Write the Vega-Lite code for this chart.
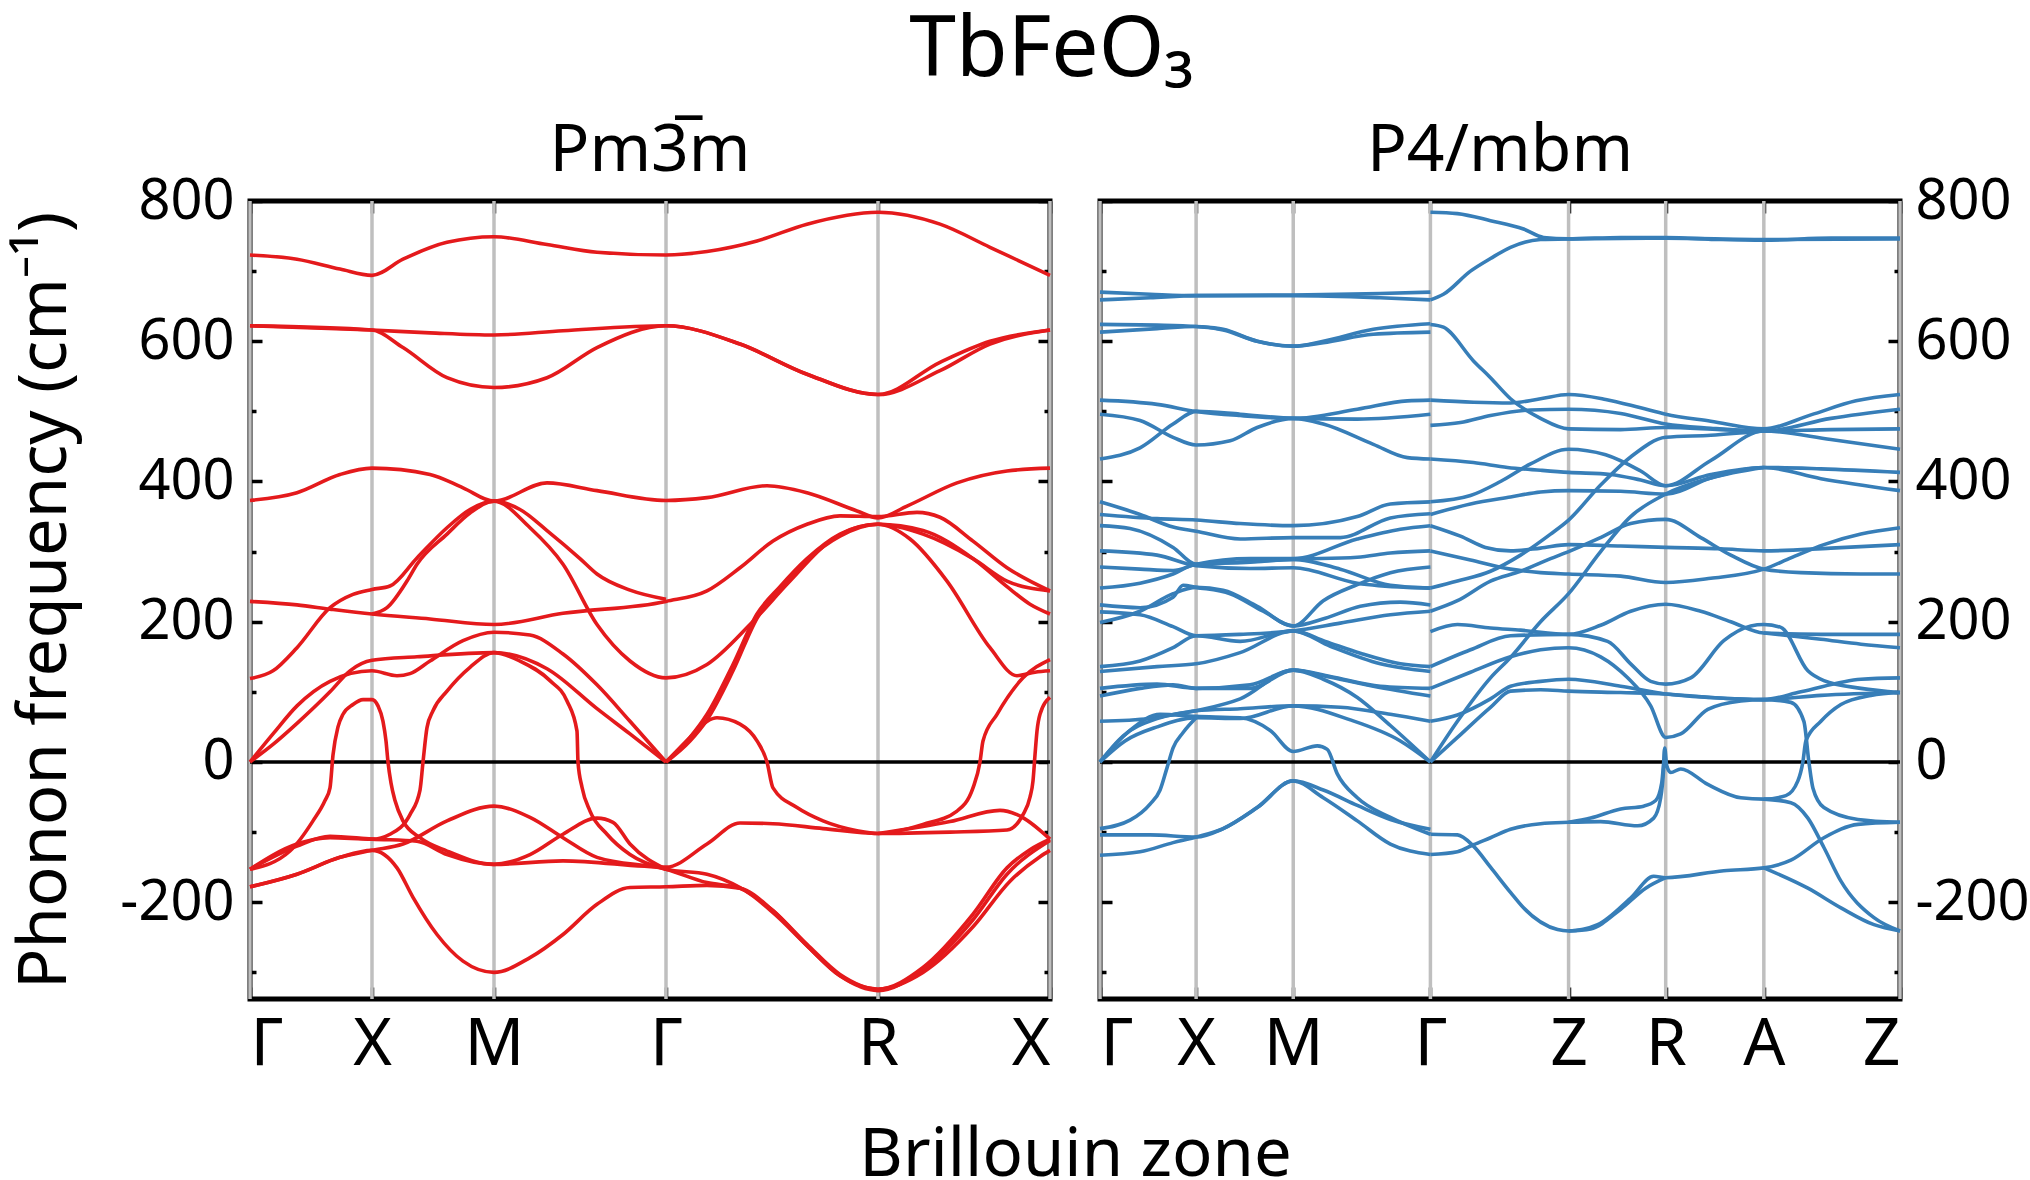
{
  "$schema": "https://vega.github.io/schema/vega-lite/v6.json",
  "background": "white",
  "padding": {"left": 9, "right": 0, "top": 8, "bottom": 0},
  "title": {"text": "TbFeO\u2083", "fontSize": 84, "anchor": "middle", "offset": 22, "dx": 31},
  "config": {
    "view": {"stroke": "black", "strokeWidth": 5},
    "font": "Noto Sans",
    "title": {"font": "Noto Sans", "fontWeight": "normal", "color": "black"},
    "axis": {
      "labelFont": "Noto Sans", "titleFont": "Noto Sans", "labelColor": "black", "titleColor": "black",
      "titleFontWeight": "normal", "domain": false, "grid": false, "tickColor": "black", "tickWidth": 3.5,
      "labelFlush": false, "labelOverlap": false, "labelBound": false, "minExtent": 0
    }
  },
  "datasets": {
    "cubic": [
      {"band":"L1","k":0,"freq":723},{"band":"L1","k":47,"freq":717},{"band":"L1","k":90,"freq":703},{"band":"L1","k":122,"freq":694},{"band":"L1","k":153,"freq":717},{"band":"L1","k":197,"freq":741},{"band":"L1","k":244,"freq":749},{"band":"L1","k":297,"freq":738},{"band":"L1","k":347,"freq":727},{"band":"L1","k":416,"freq":723},{"band":"L1","k":457,"freq":728},{"band":"L1","k":507,"freq":743},{"band":"L1","k":557,"freq":767},{"band":"L1","k":628,"freq":784},{"band":"L1","k":690,"freq":767},{"band":"L1","k":740,"freq":734},{"band":"L1","k":800,"freq":694},
      {"band":"L2","k":0,"freq":622},{"band":"L2","k":122,"freq":616},{"band":"L2","k":180,"freq":612},{"band":"L2","k":244,"freq":609},{"band":"L2","k":313,"freq":615},{"band":"L2","k":416,"freq":622},{"band":"L2","k":490,"freq":596},{"band":"L2","k":557,"freq":553},{"band":"L2","k":628,"freq":524},{"band":"L2","k":690,"freq":558},{"band":"L2","k":740,"freq":596},{"band":"L2","k":800,"freq":616},
      {"band":"L3","k":0,"freq":622},{"band":"L3","k":122,"freq":616},{"band":"L3","k":153,"freq":591},{"band":"L3","k":197,"freq":548},{"band":"L3","k":244,"freq":534},{"band":"L3","k":297,"freq":548},{"band":"L3","k":347,"freq":591},{"band":"L3","k":416,"freq":622},{"band":"L3","k":490,"freq":596},{"band":"L3","k":557,"freq":553},{"band":"L3","k":628,"freq":524},{"band":"L3","k":690,"freq":570},{"band":"L3","k":740,"freq":600},{"band":"L3","k":800,"freq":616},
      {"band":"L4","k":0,"freq":373},{"band":"L4","k":47,"freq":384},{"band":"L4","k":90,"freq":410},{"band":"L4","k":122,"freq":419},{"band":"L4","k":180,"freq":410},{"band":"L4","k":213,"freq":391},{"band":"L4","k":244,"freq":372},{"band":"L4","k":297,"freq":398},{"band":"L4","k":347,"freq":387},{"band":"L4","k":416,"freq":373},{"band":"L4","k":457,"freq":377},{"band":"L4","k":517,"freq":394},{"band":"L4","k":557,"freq":384},{"band":"L4","k":607,"freq":358},{"band":"L4","k":628,"freq":348},{"band":"L4","k":657,"freq":365},{"band":"L4","k":707,"freq":398},{"band":"L4","k":757,"freq":415},{"band":"L4","k":800,"freq":419},
      {"band":"L5","k":0,"freq":119},{"band":"L5","k":23,"freq":130},{"band":"L5","k":47,"freq":163},{"band":"L5","k":80,"freq":220},{"band":"L5","k":103,"freq":239},{"band":"L5","k":122,"freq":246},{"band":"L5","k":140,"freq":251},{"band":"L5","k":167,"freq":291},{"band":"L5","k":197,"freq":334},{"band":"L5","k":220,"freq":360},{"band":"L5","k":244,"freq":372},{"band":"L5","k":280,"freq":334},{"band":"L5","k":313,"freq":282},{"band":"L5","k":347,"freq":196},{"band":"L5","k":380,"freq":144},{"band":"L5","k":416,"freq":120},{"band":"L5","k":457,"freq":139},{"band":"L5","k":500,"freq":196},{"band":"L5","k":540,"freq":258},{"band":"L5","k":580,"freq":315},{"band":"L5","k":628,"freq":339},{"band":"L5","k":673,"freq":330},{"band":"L5","k":723,"freq":290},{"band":"L5","k":757,"freq":250},{"band":"L5","k":780,"freq":225},{"band":"L5","k":800,"freq":211},
      {"band":"L6","k":0,"freq":229},{"band":"L6","k":47,"freq":224},{"band":"L6","k":80,"freq":218},{"band":"L6","k":122,"freq":211},{"band":"L6","k":180,"freq":204},{"band":"L6","k":244,"freq":196},{"band":"L6","k":313,"freq":212},{"band":"L6","k":416,"freq":229},{"band":"L6","k":457,"freq":244},{"band":"L6","k":490,"freq":277},{"band":"L6","k":523,"freq":315},{"band":"L6","k":557,"freq":339},{"band":"L6","k":590,"freq":351},{"band":"L6","k":628,"freq":350},{"band":"L6","k":667,"freq":356},{"band":"L6","k":690,"freq":349},{"band":"L6","k":723,"freq":315},{"band":"L6","k":757,"freq":277},{"band":"L6","k":800,"freq":244},
      {"band":"L7","k":0,"freq":0},{"band":"L7","k":23,"freq":40},{"band":"L7","k":47,"freq":80},{"band":"L7","k":80,"freq":115},{"band":"L7","k":122,"freq":130},{"band":"L7","k":147,"freq":123},{"band":"L7","k":160,"freq":126},{"band":"L7","k":180,"freq":144},{"band":"L7","k":213,"freq":173},{"band":"L7","k":244,"freq":185},{"band":"L7","k":280,"freq":181},{"band":"L7","k":313,"freq":154},{"band":"L7","k":347,"freq":110},{"band":"L7","k":380,"freq":58},{"band":"L7","k":416,"freq":0},
      {"band":"L7b","k":416,"freq":0},{"band":"L7b","k":440,"freq":35},{"band":"L7b","k":457,"freq":68},{"band":"L7b","k":483,"freq":139},{"band":"L7b","k":507,"freq":211},{"band":"L7b","k":530,"freq":250},{"band":"L7b","k":557,"freq":290},{"band":"L7b","k":590,"freq":325},{"band":"L7b","k":628,"freq":339},{"band":"L7b","k":660,"freq":318},{"band":"L7b","k":697,"freq":258},{"band":"L7b","k":740,"freq":163},{"band":"L7b","k":767,"freq":123},{"band":"L7b","k":785,"freq":128},{"band":"L7b","k":800,"freq":130},
      {"band":"L8","k":0,"freq":0},{"band":"L8","k":23,"freq":25},{"band":"L8","k":47,"freq":55},{"band":"L8","k":80,"freq":100},{"band":"L8","k":100,"freq":130},{"band":"L8","k":122,"freq":145},{"band":"L8","k":167,"freq":150},{"band":"L8","k":244,"freq":156},{"band":"L8","k":297,"freq":133},{"band":"L8","k":347,"freq":76},{"band":"L8","k":380,"freq":40},{"band":"L8","k":416,"freq":0},
      {"band":"L8b","k":416,"freq":0},{"band":"L8b","k":440,"freq":30},{"band":"L8b","k":457,"freq":60},{"band":"L8b","k":483,"freq":130},{"band":"L8b","k":507,"freq":205},{"band":"L8b","k":530,"freq":248},{"band":"L8b","k":557,"freq":288},{"band":"L8b","k":590,"freq":322},{"band":"L8b","k":628,"freq":339},{"band":"L8b","k":673,"freq":325},{"band":"L8b","k":723,"freq":290},{"band":"L8b","k":757,"freq":258},{"band":"L8b","k":800,"freq":244},
      {"band":"L9","k":0,"freq":-153},{"band":"L9","k":40,"freq":-127},{"band":"L9","k":63,"freq":-84},{"band":"L9","k":75,"freq":-55},{"band":"L9","k":80,"freq":-37},{"band":"L9","k":83,"freq":10},{"band":"L9","k":88,"freq":50},{"band":"L9","k":93,"freq":68},{"band":"L9","k":103,"freq":82},{"band":"L9","k":113,"freq":89},{"band":"L9","k":122,"freq":89},{"band":"L9","k":128,"freq":80},{"band":"L9","k":133,"freq":58},{"band":"L9","k":136,"freq":30},{"band":"L9","k":138,"freq":0},{"band":"L9","k":141,"freq":-30},{"band":"L9","k":145,"freq":-55},{"band":"L9","k":153,"freq":-84},{"band":"L9","k":170,"freq":-108},{"band":"L9","k":197,"freq":-127},{"band":"L9","k":244,"freq":-146},{"band":"L9","k":313,"freq":-141},{"band":"L9","k":416,"freq":-150},{"band":"L9","k":457,"freq":-117},{"band":"L9","k":490,"freq":-87},{"band":"L9","k":523,"freq":-88},{"band":"L9","k":573,"freq":-95},{"band":"L9","k":628,"freq":-102},{"band":"L9","k":700,"freq":-100},{"band":"L9","k":757,"freq":-97},{"band":"L9","k":773,"freq":-75},{"band":"L9","k":780,"freq":-50},{"band":"L9","k":783,"freq":-27},{"band":"L9","k":785,"freq":10},{"band":"L9","k":787,"freq":44},{"band":"L9","k":790,"freq":68},{"band":"L9","k":800,"freq":92},
      {"band":"L10","k":0,"freq":-153},{"band":"L10","k":47,"freq":-117},{"band":"L10","k":80,"freq":-108},{"band":"L10","k":122,"freq":-110},{"band":"L10","k":140,"freq":-103},{"band":"L10","k":160,"freq":-75},{"band":"L10","k":170,"freq":-40},{"band":"L10","k":173,"freq":0},{"band":"L10","k":177,"freq":49},{"band":"L10","k":183,"freq":73},{"band":"L10","k":197,"freq":101},{"band":"L10","k":220,"freq":135},{"band":"L10","k":244,"freq":156},{"band":"L10","k":270,"freq":144},{"band":"L10","k":300,"freq":116},{"band":"L10","k":317,"freq":87},{"band":"L10","k":327,"freq":44},{"band":"L10","k":328,"freq":0},{"band":"L10","k":332,"freq":-36},{"band":"L10","k":340,"freq":-70},{"band":"L10","k":357,"freq":-103},{"band":"L10","k":380,"freq":-132},{"band":"L10","k":416,"freq":-153},{"band":"L10","k":457,"freq":-160},{"band":"L10","k":490,"freq":-179},{"band":"L10","k":523,"freq":-212},{"band":"L10","k":557,"freq":-260},{"band":"L10","k":590,"freq":-303},{"band":"L10","k":628,"freq":-324},{"band":"L10","k":673,"freq":-293},{"band":"L10","k":723,"freq":-217},{"band":"L10","k":757,"freq":-151},{"band":"L10","k":780,"freq":-125},{"band":"L10","k":800,"freq":-110},
      {"band":"L11","k":0,"freq":-178},{"band":"L11","k":47,"freq":-160},{"band":"L11","k":90,"freq":-136},{"band":"L11","k":122,"freq":-126},{"band":"L11","k":153,"freq":-117},{"band":"L11","k":197,"freq":-84},{"band":"L11","k":244,"freq":-63},{"band":"L11","k":280,"freq":-79},{"band":"L11","k":313,"freq":-108},{"band":"L11","k":347,"freq":-136},{"band":"L11","k":416,"freq":-153},{"band":"L11","k":457,"freq":-172},{"band":"L11","k":490,"freq":-180},{"band":"L11","k":523,"freq":-215},{"band":"L11","k":557,"freq":-262},{"band":"L11","k":590,"freq":-305},{"band":"L11","k":628,"freq":-324},{"band":"L11","k":673,"freq":-300},{"band":"L11","k":723,"freq":-235},{"band":"L11","k":760,"freq":-170},{"band":"L11","k":790,"freq":-135},{"band":"L11","k":800,"freq":-126},
      {"band":"L12","k":0,"freq":-178},{"band":"L12","k":47,"freq":-160},{"band":"L12","k":90,"freq":-136},{"band":"L12","k":122,"freq":-126},{"band":"L12","k":147,"freq":-151},{"band":"L12","k":163,"freq":-193},{"band":"L12","k":187,"freq":-246},{"band":"L12","k":213,"freq":-284},{"band":"L12","k":244,"freq":-300},{"band":"L12","k":280,"freq":-279},{"band":"L12","k":313,"freq":-246},{"band":"L12","k":347,"freq":-203},{"band":"L12","k":380,"freq":-179},{"band":"L12","k":416,"freq":-178},{"band":"L12","k":457,"freq":-176},{"band":"L12","k":490,"freq":-180},{"band":"L12","k":523,"freq":-212},{"band":"L12","k":557,"freq":-262},{"band":"L12","k":590,"freq":-305},{"band":"L12","k":628,"freq":-326},{"band":"L12","k":673,"freq":-296},{"band":"L12","k":723,"freq":-225},{"band":"L12","k":757,"freq":-160},{"band":"L12","k":800,"freq":-112},
      {"band":"L13","k":0,"freq":-153},{"band":"L13","k":47,"freq":-120},{"band":"L13","k":80,"freq":-106},{"band":"L13","k":122,"freq":-110},{"band":"L13","k":167,"freq":-113},{"band":"L13","k":197,"freq":-132},{"band":"L13","k":244,"freq":-146},{"band":"L13","k":280,"freq":-132},{"band":"L13","k":313,"freq":-103},{"band":"L13","k":347,"freq":-80},{"band":"L13","k":363,"freq":-86},{"band":"L13","k":380,"freq":-117},{"band":"L13","k":416,"freq":-153},
      {"band":"L14","k":416,"freq":0},{"band":"L14","k":440,"freq":35},{"band":"L14","k":457,"freq":58},{"band":"L14","k":467,"freq":63},{"band":"L14","k":490,"freq":54},{"band":"L14","k":507,"freq":30},{"band":"L14","k":517,"freq":0},{"band":"L14","k":523,"freq":-37},{"band":"L14","k":547,"freq":-65},{"band":"L14","k":573,"freq":-84},{"band":"L14","k":607,"freq":-98},{"band":"L14","k":628,"freq":-102},{"band":"L14","k":673,"freq":-89},{"band":"L14","k":707,"freq":-70},{"band":"L14","k":723,"freq":-37},{"band":"L14","k":730,"freq":0},{"band":"L14","k":733,"freq":30},{"band":"L14","k":747,"freq":68},{"band":"L14","k":773,"freq":120},{"band":"L14","k":800,"freq":146},
      {"band":"L15","k":122,"freq":211},{"band":"L15","k":137,"freq":220},{"band":"L15","k":157,"freq":258},{"band":"L15","k":167,"freq":282},{"band":"L15","k":197,"freq":325},{"band":"L15","k":220,"freq":355},{"band":"L15","k":244,"freq":372},{"band":"L15","k":270,"freq":360},{"band":"L15","k":297,"freq":330},{"band":"L15","k":330,"freq":290},{"band":"L15","k":347,"freq":268},{"band":"L15","k":380,"freq":245},{"band":"L15","k":416,"freq":232},
      {"band":"L16","k":628,"freq":-102},{"band":"L16","k":700,"freq":-85},{"band":"L16","k":750,"freq":-69},{"band":"L16","k":767,"freq":-75},{"band":"L16","k":800,"freq":-110}
    ],
    "tetra": [
      {"band":"RL1","k":0,"freq":670},{"band":"RL1","k":50,"freq":667},{"band":"RL1","k":96,"freq":665},{"band":"RL1","k":193,"freq":666},{"band":"RL1","k":280,"freq":668},{"band":"RL1","k":330,"freq":670},
      {"band":"RL2","k":0,"freq":659},{"band":"RL2","k":50,"freq":662},{"band":"RL2","k":96,"freq":665},{"band":"RL2","k":193,"freq":665},{"band":"RL2","k":280,"freq":662},{"band":"RL2","k":330,"freq":659},
      {"band":"RL3","k":0,"freq":624},{"band":"RL3","k":57,"freq":623},{"band":"RL3","k":96,"freq":621},{"band":"RL3","k":123,"freq":617},{"band":"RL3","k":157,"freq":600},{"band":"RL3","k":193,"freq":593},{"band":"RL3","k":223,"freq":600},{"band":"RL3","k":273,"freq":617},{"band":"RL3","k":330,"freq":625},
      {"band":"RL4","k":0,"freq":613},{"band":"RL4","k":57,"freq":618},{"band":"RL4","k":96,"freq":621},{"band":"RL4","k":123,"freq":616},{"band":"RL4","k":157,"freq":600},{"band":"RL4","k":193,"freq":593},{"band":"RL4","k":223,"freq":598},{"band":"RL4","k":273,"freq":610},{"band":"RL4","k":330,"freq":613},
      {"band":"RL5","k":0,"freq":516},{"band":"RL5","k":57,"freq":510},{"band":"RL5","k":96,"freq":500},{"band":"RL5","k":140,"freq":494},{"band":"RL5","k":193,"freq":490},{"band":"RL5","k":257,"freq":503},{"band":"RL5","k":307,"freq":515},{"band":"RL5","k":330,"freq":516},
      {"band":"RL6","k":0,"freq":496},{"band":"RL6","k":40,"freq":487},{"band":"RL6","k":73,"freq":463},{"band":"RL6","k":96,"freq":452},{"band":"RL6","k":130,"freq":458},{"band":"RL6","k":157,"freq":477},{"band":"RL6","k":193,"freq":490},{"band":"RL6","k":223,"freq":482},{"band":"RL6","k":273,"freq":453},{"band":"RL6","k":307,"freq":434},{"band":"RL6","k":330,"freq":432},
      {"band":"RL7","k":0,"freq":432},{"band":"RL7","k":40,"freq":448},{"band":"RL7","k":73,"freq":482},{"band":"RL7","k":96,"freq":500},{"band":"RL7","k":140,"freq":496},{"band":"RL7","k":193,"freq":490},{"band":"RL7","k":257,"freq":489},{"band":"RL7","k":330,"freq":496},
      {"band":"RL8","k":0,"freq":371},{"band":"RL8","k":40,"freq":353},{"band":"RL8","k":73,"freq":335},{"band":"RL8","k":96,"freq":329},{"band":"RL8","k":140,"freq":318},{"band":"RL8","k":193,"freq":320},{"band":"RL8","k":240,"freq":320},{"band":"RL8","k":290,"freq":348},{"band":"RL8","k":330,"freq":354},
      {"band":"RL9","k":0,"freq":353},{"band":"RL9","k":57,"freq":347},{"band":"RL9","k":96,"freq":345},{"band":"RL9","k":140,"freq":340},{"band":"RL9","k":193,"freq":337},{"band":"RL9","k":257,"freq":350},{"band":"RL9","k":290,"freq":368},{"band":"RL9","k":330,"freq":371},
      {"band":"RL10","k":0,"freq":337},{"band":"RL10","k":30,"freq":333},{"band":"RL10","k":73,"freq":306},{"band":"RL10","k":96,"freq":282},{"band":"RL10","k":140,"freq":285},{"band":"RL10","k":193,"freq":289},{"band":"RL10","k":257,"freq":292},{"band":"RL10","k":290,"freq":298},{"band":"RL10","k":330,"freq":301},
      {"band":"RL11","k":0,"freq":301},{"band":"RL11","k":57,"freq":295},{"band":"RL11","k":96,"freq":280},{"band":"RL11","k":150,"freq":276},{"band":"RL11","k":193,"freq":277},{"band":"RL11","k":257,"freq":255},{"band":"RL11","k":307,"freq":249},{"band":"RL11","k":330,"freq":248},
      {"band":"RL12","k":0,"freq":278},{"band":"RL12","k":40,"freq":275},{"band":"RL12","k":73,"freq":273},{"band":"RL12","k":96,"freq":282},{"band":"RL12","k":150,"freq":290},{"band":"RL12","k":193,"freq":290},{"band":"RL12","k":257,"freq":318},{"band":"RL12","k":300,"freq":332},{"band":"RL12","k":330,"freq":337},
      {"band":"RL13","k":0,"freq":248},{"band":"RL13","k":40,"freq":255},{"band":"RL13","k":73,"freq":268},{"band":"RL13","k":96,"freq":282},{"band":"RL13","k":150,"freq":285},{"band":"RL13","k":193,"freq":289},{"band":"RL13","k":240,"freq":275},{"band":"RL13","k":290,"freq":252},{"band":"RL13","k":330,"freq":248},
      {"band":"RL14","k":0,"freq":224},{"band":"RL14","k":40,"freq":220},{"band":"RL14","k":73,"freq":235},{"band":"RL14","k":83,"freq":252},{"band":"RL14","k":96,"freq":249},{"band":"RL14","k":130,"freq":240},{"band":"RL14","k":163,"freq":215},{"band":"RL14","k":193,"freq":194},{"band":"RL14","k":223,"freq":230},{"band":"RL14","k":257,"freq":253},{"band":"RL14","k":290,"freq":270},{"band":"RL14","k":330,"freq":278},
      {"band":"RL15","k":0,"freq":214},{"band":"RL15","k":40,"freq":210},{"band":"RL15","k":73,"freq":193},{"band":"RL15","k":96,"freq":180},{"band":"RL15","k":140,"freq":182},{"band":"RL15","k":193,"freq":187},{"band":"RL15","k":240,"freq":198},{"band":"RL15","k":290,"freq":210},{"band":"RL15","k":330,"freq":215},
      {"band":"RL16","k":0,"freq":199},{"band":"RL16","k":40,"freq":215},{"band":"RL16","k":73,"freq":240},{"band":"RL16","k":96,"freq":249},{"band":"RL16","k":123,"freq":245},{"band":"RL16","k":157,"freq":222},{"band":"RL16","k":193,"freq":194},{"band":"RL16","k":225,"freq":205},{"band":"RL16","k":260,"freq":222},{"band":"RL16","k":300,"freq":228},{"band":"RL16","k":330,"freq":224},
      {"band":"RL17","k":0,"freq":136},{"band":"RL17","k":40,"freq":144},{"band":"RL17","k":73,"freq":163},{"band":"RL17","k":96,"freq":180},{"band":"RL17","k":140,"freq":172},{"band":"RL17","k":193,"freq":187},{"band":"RL17","k":225,"freq":172},{"band":"RL17","k":260,"freq":155},{"band":"RL17","k":300,"freq":140},{"band":"RL17","k":330,"freq":136},
      {"band":"RL18","k":0,"freq":129},{"band":"RL18","k":57,"freq":136},{"band":"RL18","k":96,"freq":140},{"band":"RL18","k":140,"freq":156},{"band":"RL18","k":193,"freq":187},{"band":"RL18","k":230,"freq":165},{"band":"RL18","k":280,"freq":140},{"band":"RL18","k":330,"freq":129},
      {"band":"RL19","k":0,"freq":105},{"band":"RL19","k":57,"freq":111},{"band":"RL19","k":96,"freq":105},{"band":"RL19","k":150,"freq":105},{"band":"RL19","k":193,"freq":131},{"band":"RL19","k":230,"freq":122},{"band":"RL19","k":280,"freq":108},{"band":"RL19","k":330,"freq":105},
      {"band":"RL20","k":0,"freq":94},{"band":"RL20","k":40,"freq":105},{"band":"RL20","k":73,"freq":110},{"band":"RL20","k":96,"freq":105},{"band":"RL20","k":150,"freq":110},{"band":"RL20","k":193,"freq":131},{"band":"RL20","k":223,"freq":123},{"band":"RL20","k":273,"freq":108},{"band":"RL20","k":330,"freq":94},
      {"band":"RL21","k":0,"freq":58},{"band":"RL21","k":50,"freq":62},{"band":"RL21","k":96,"freq":73},{"band":"RL21","k":140,"freq":76},{"band":"RL21","k":193,"freq":80},{"band":"RL21","k":240,"freq":78},{"band":"RL21","k":290,"freq":68},{"band":"RL21","k":330,"freq":58},
      {"band":"RL22","k":0,"freq":0},{"band":"RL22","k":23,"freq":37},{"band":"RL22","k":57,"freq":62},{"band":"RL22","k":96,"freq":73},{"band":"RL22","k":140,"freq":90},{"band":"RL22","k":193,"freq":131},{"band":"RL22","k":223,"freq":118},{"band":"RL22","k":257,"freq":92},{"band":"RL22","k":290,"freq":52},{"band":"RL22","k":330,"freq":0},
      {"band":"RL23","k":0,"freq":0},{"band":"RL23","k":30,"freq":45},{"band":"RL23","k":60,"freq":68},{"band":"RL23","k":96,"freq":65},{"band":"RL23","k":140,"freq":63},{"band":"RL23","k":170,"freq":45},{"band":"RL23","k":193,"freq":15},{"band":"RL23","k":217,"freq":23},{"band":"RL23","k":227,"freq":18},{"band":"RL23","k":237,"freq":-17},{"band":"RL23","k":257,"freq":-51},{"band":"RL23","k":290,"freq":-79},{"band":"RL23","k":330,"freq":-103},
      {"band":"RL24","k":0,"freq":0},{"band":"RL24","k":25,"freq":30},{"band":"RL24","k":57,"freq":50},{"band":"RL24","k":96,"freq":63},{"band":"RL24","k":140,"freq":62},{"band":"RL24","k":193,"freq":80},{"band":"RL24","k":250,"freq":60},{"band":"RL24","k":300,"freq":30},{"band":"RL24","k":330,"freq":0},
      {"band":"RL25","k":0,"freq":-95},{"band":"RL25","k":30,"freq":-83},{"band":"RL25","k":50,"freq":-60},{"band":"RL25","k":60,"freq":-40},{"band":"RL25","k":67,"freq":-8},{"band":"RL25","k":73,"freq":20},{"band":"RL25","k":83,"freq":42},{"band":"RL25","k":96,"freq":63},
      {"band":"RL26","k":0,"freq":-104},{"band":"RL26","k":50,"freq":-104},{"band":"RL26","k":96,"freq":-107},{"band":"RL26","k":123,"freq":-95},{"band":"RL26","k":157,"freq":-65},{"band":"RL26","k":193,"freq":-27},{"band":"RL26","k":223,"freq":-51},{"band":"RL26","k":257,"freq":-84},{"band":"RL26","k":290,"freq":-117},{"band":"RL26","k":330,"freq":-132},
      {"band":"RL27","k":0,"freq":-133},{"band":"RL27","k":40,"freq":-128},{"band":"RL27","k":73,"freq":-115},{"band":"RL27","k":96,"freq":-107},{"band":"RL27","k":123,"freq":-95},{"band":"RL27","k":157,"freq":-65},{"band":"RL27","k":193,"freq":-27},{"band":"RL27","k":223,"freq":-40},{"band":"RL27","k":257,"freq":-62},{"band":"RL27","k":290,"freq":-82},{"band":"RL27","k":330,"freq":-96},
      {"band":"RR1","k":330,"freq":784},{"band":"RR1","k":357,"freq":782},{"band":"RR1","k":390,"freq":772},{"band":"RR1","k":423,"freq":760},{"band":"RR1","k":443,"freq":748},{"band":"RR1","k":468,"freq":746},{"band":"RR1","k":520,"freq":748},{"band":"RR1","k":565,"freq":748},{"band":"RR1","k":620,"freq":745},{"band":"RR1","k":663,"freq":744},{"band":"RR1","k":730,"freq":747},{"band":"RR1","k":799,"freq":747},
      {"band":"RR2","k":330,"freq":659},{"band":"RR2","k":343,"freq":667},{"band":"RR2","k":370,"freq":700},{"band":"RR2","k":390,"freq":718},{"band":"RR2","k":410,"freq":734},{"band":"RR2","k":440,"freq":745},{"band":"RR2","k":468,"freq":746},{"band":"RR2","k":565,"freq":747},{"band":"RR2","k":663,"freq":745},{"band":"RR2","k":799,"freq":746},
      {"band":"RR3","k":330,"freq":624},{"band":"RR3","k":343,"freq":620},{"band":"RR3","k":373,"freq":572},{"band":"RR3","k":390,"freq":548},{"band":"RR3","k":410,"freq":518},{"band":"RR3","k":440,"freq":490},{"band":"RR3","k":468,"freq":475},{"band":"RR3","k":520,"freq":474},{"band":"RR3","k":565,"freq":477},{"band":"RR3","k":620,"freq":474},{"band":"RR3","k":663,"freq":472},{"band":"RR3","k":730,"freq":474},{"band":"RR3","k":799,"freq":475},
      {"band":"RR4","k":330,"freq":516},{"band":"RR4","k":373,"freq":513},{"band":"RR4","k":410,"freq":512},{"band":"RR4","k":440,"freq":518},{"band":"RR4","k":468,"freq":524},{"band":"RR4","k":505,"freq":517},{"band":"RR4","k":540,"freq":505},{"band":"RR4","k":565,"freq":496},{"band":"RR4","k":610,"freq":486},{"band":"RR4","k":663,"freq":475},{"band":"RR4","k":710,"freq":495},{"band":"RR4","k":755,"freq":515},{"band":"RR4","k":799,"freq":524},
      {"band":"RR5","k":330,"freq":480},{"band":"RR5","k":360,"freq":484},{"band":"RR5","k":390,"freq":494},{"band":"RR5","k":430,"freq":502},{"band":"RR5","k":468,"freq":503},{"band":"RR5","k":520,"freq":497},{"band":"RR5","k":565,"freq":482},{"band":"RR5","k":610,"freq":476},{"band":"RR5","k":663,"freq":472},{"band":"RR5","k":730,"freq":490},{"band":"RR5","k":799,"freq":503},
      {"band":"RR6","k":330,"freq":432},{"band":"RR6","k":373,"freq":427},{"band":"RR6","k":407,"freq":420},{"band":"RR6","k":440,"freq":416},{"band":"RR6","k":468,"freq":413},{"band":"RR6","k":510,"freq":410},{"band":"RR6","k":540,"freq":402},{"band":"RR6","k":565,"freq":394},{"band":"RR6","k":610,"freq":410},{"band":"RR6","k":663,"freq":420},{"band":"RR6","k":720,"freq":418},{"band":"RR6","k":799,"freq":413},
      {"band":"RR7","k":330,"freq":371},{"band":"RR7","k":370,"freq":380},{"band":"RR7","k":400,"freq":400},{"band":"RR7","k":430,"freq":425},{"band":"RR7","k":468,"freq":446},{"band":"RR7","k":505,"freq":438},{"band":"RR7","k":540,"freq":415},{"band":"RR7","k":565,"freq":394},{"band":"RR7","k":610,"freq":430},{"band":"RR7","k":663,"freq":472},{"band":"RR7","k":730,"freq":460},{"band":"RR7","k":799,"freq":446},
      {"band":"RR8","k":330,"freq":353},{"band":"RR8","k":370,"freq":368},{"band":"RR8","k":410,"freq":378},{"band":"RR8","k":440,"freq":385},{"band":"RR8","k":468,"freq":387},{"band":"RR8","k":520,"freq":386},{"band":"RR8","k":565,"freq":382},{"band":"RR8","k":610,"freq":405},{"band":"RR8","k":663,"freq":420},{"band":"RR8","k":720,"freq":404},{"band":"RR8","k":799,"freq":387},
      {"band":"RR9","k":330,"freq":337},{"band":"RR9","k":360,"freq":322},{"band":"RR9","k":385,"freq":306},{"band":"RR9","k":410,"freq":301},{"band":"RR9","k":440,"freq":305},{"band":"RR9","k":468,"freq":310},{"band":"RR9","k":520,"freq":308},{"band":"RR9","k":565,"freq":306},{"band":"RR9","k":620,"freq":304},{"band":"RR9","k":663,"freq":301},{"band":"RR9","k":730,"freq":305},{"band":"RR9","k":799,"freq":310},
      {"band":"RR10","k":330,"freq":301},{"band":"RR10","k":370,"freq":288},{"band":"RR10","k":410,"freq":275},{"band":"RR10","k":440,"freq":270},{"band":"RR10","k":468,"freq":268},{"band":"RR10","k":520,"freq":265},{"band":"RR10","k":565,"freq":256},{"band":"RR10","k":610,"freq":262},{"band":"RR10","k":663,"freq":275},{"band":"RR10","k":690,"freq":291},{"band":"RR10","k":723,"freq":310},{"band":"RR10","k":760,"freq":325},{"band":"RR10","k":799,"freq":334},
      {"band":"RR11","k":330,"freq":248},{"band":"RR11","k":357,"freq":258},{"band":"RR11","k":390,"freq":272},{"band":"RR11","k":420,"freq":295},{"band":"RR11","k":450,"freq":325},{"band":"RR11","k":468,"freq":345},{"band":"RR11","k":500,"freq":395},{"band":"RR11","k":530,"freq":435},{"band":"RR11","k":565,"freq":463},{"band":"RR11","k":610,"freq":466},{"band":"RR11","k":663,"freq":472},
      {"band":"RR12","k":330,"freq":215},{"band":"RR12","k":357,"freq":230},{"band":"RR12","k":390,"freq":258},{"band":"RR12","k":420,"freq":272},{"band":"RR12","k":450,"freq":290},{"band":"RR12","k":468,"freq":300},{"band":"RR12","k":500,"freq":320},{"band":"RR12","k":530,"freq":340},{"band":"RR12","k":565,"freq":346},{"band":"RR12","k":600,"freq":320},{"band":"RR12","k":630,"freq":295},{"band":"RR12","k":663,"freq":275},{"band":"RR12","k":700,"freq":270},{"band":"RR12","k":760,"freq":268},{"band":"RR12","k":799,"freq":268},
      {"band":"RR13","k":330,"freq":0},{"band":"RR13","k":357,"freq":58},{"band":"RR13","k":390,"freq":120},{"band":"RR13","k":410,"freq":149},{"band":"RR13","k":440,"freq":200},{"band":"RR13","k":468,"freq":240},{"band":"RR13","k":500,"freq":300},{"band":"RR13","k":530,"freq":350},{"band":"RR13","k":565,"freq":382},{"band":"RR13","k":610,"freq":405},{"band":"RR13","k":663,"freq":420},
      {"band":"RR14","k":330,"freq":186},{"band":"RR14","k":357,"freq":196},{"band":"RR14","k":390,"freq":191},{"band":"RR14","k":420,"freq":188},{"band":"RR14","k":468,"freq":182},{"band":"RR14","k":500,"freq":195},{"band":"RR14","k":530,"freq":215},{"band":"RR14","k":565,"freq":225},{"band":"RR14","k":600,"freq":215},{"band":"RR14","k":630,"freq":200},{"band":"RR14","k":663,"freq":184},{"band":"RR14","k":720,"freq":182},{"band":"RR14","k":799,"freq":182},
      {"band":"RR15","k":330,"freq":58},{"band":"RR15","k":357,"freq":67},{"band":"RR15","k":390,"freq":90},{"band":"RR15","k":410,"freq":108},{"band":"RR15","k":440,"freq":115},{"band":"RR15","k":468,"freq":118},{"band":"RR15","k":520,"freq":108},{"band":"RR15","k":565,"freq":97},{"band":"RR15","k":610,"freq":92},{"band":"RR15","k":663,"freq":89},{"band":"RR15","k":700,"freq":100},{"band":"RR15","k":760,"freq":118},{"band":"RR15","k":799,"freq":120},
      {"band":"RR16","k":330,"freq":0},{"band":"RR16","k":357,"freq":35},{"band":"RR16","k":390,"freq":78},{"band":"RR16","k":410,"freq":101},{"band":"RR16","k":440,"freq":103},{"band":"RR16","k":468,"freq":101},{"band":"RR16","k":520,"freq":99},{"band":"RR16","k":565,"freq":97},{"band":"RR16","k":610,"freq":92},{"band":"RR16","k":663,"freq":89},{"band":"RR16","k":720,"freq":95},{"band":"RR16","k":799,"freq":99},
      {"band":"RR17","k":330,"freq":136},{"band":"RR17","k":370,"freq":160},{"band":"RR17","k":410,"freq":180},{"band":"RR17","k":468,"freq":182},{"band":"RR17","k":507,"freq":172},{"band":"RR17","k":530,"freq":140},{"band":"RR17","k":550,"freq":115},{"band":"RR17","k":565,"freq":111},{"band":"RR17","k":590,"freq":120},{"band":"RR17","k":623,"freq":173},{"band":"RR17","k":650,"freq":194},{"band":"RR17","k":663,"freq":196},{"band":"RR17","k":680,"freq":192},{"band":"RR17","k":707,"freq":130},{"band":"RR17","k":723,"freq":116},{"band":"RR17","k":760,"freq":105},{"band":"RR17","k":799,"freq":99},
      {"band":"RR18","k":330,"freq":105},{"band":"RR18","k":370,"freq":128},{"band":"RR18","k":410,"freq":150},{"band":"RR18","k":440,"freq":160},{"band":"RR18","k":468,"freq":163},{"band":"RR18","k":500,"freq":150},{"band":"RR18","k":527,"freq":120},{"band":"RR18","k":550,"freq":80},{"band":"RR18","k":565,"freq":35},{"band":"RR18","k":580,"freq":40},{"band":"RR18","k":607,"freq":75},{"band":"RR18","k":640,"freq":87},{"band":"RR18","k":663,"freq":89},{"band":"RR18","k":690,"freq":85},{"band":"RR18","k":703,"freq":58},{"band":"RR18","k":708,"freq":0},{"band":"RR18","k":712,"freq":-37},{"band":"RR18","k":723,"freq":-65},{"band":"RR18","k":757,"freq":-82},{"band":"RR18","k":799,"freq":-86},
      {"band":"RR19","k":330,"freq":-103},{"band":"RR19","k":357,"freq":-104},{"band":"RR19","k":373,"freq":-120},{"band":"RR19","k":390,"freq":-150},{"band":"RR19","k":410,"freq":-186},{"band":"RR19","k":423,"freq":-208},{"band":"RR19","k":457,"freq":-239},{"band":"RR19","k":468,"freq":-241},{"band":"RR19","k":497,"freq":-232},{"band":"RR19","k":530,"freq":-194},{"band":"RR19","k":553,"freq":-163},{"band":"RR19","k":565,"freq":-165},{"band":"RR19","k":623,"freq":-155},{"band":"RR19","k":663,"freq":-151},{"band":"RR19","k":690,"freq":-140},{"band":"RR19","k":723,"freq":-108},{"band":"RR19","k":757,"freq":-89},{"band":"RR19","k":799,"freq":-86},
      {"band":"RR20","k":330,"freq":-132},{"band":"RR20","k":357,"freq":-128},{"band":"RR20","k":373,"freq":-118},{"band":"RR20","k":390,"freq":-108},{"band":"RR20","k":410,"freq":-96},{"band":"RR20","k":440,"freq":-88},{"band":"RR20","k":468,"freq":-86},{"band":"RR20","k":500,"freq":-85},{"band":"RR20","k":537,"freq":-91},{"band":"RR20","k":553,"freq":-80},{"band":"RR20","k":560,"freq":-51},{"band":"RR20","k":563,"freq":-8},{"band":"RR20","k":564,"freq":20},{"band":"RR20","k":566,"freq":-5},{"band":"RR20","k":570,"freq":-15},{"band":"RR20","k":580,"freq":-10},{"band":"RR20","k":607,"freq":-32},{"band":"RR20","k":640,"freq":-51},{"band":"RR20","k":663,"freq":-53},{"band":"RR20","k":685,"freq":-48},{"band":"RR20","k":697,"freq":-27},{"band":"RR20","k":702,"freq":0},{"band":"RR20","k":705,"freq":30},{"band":"RR20","k":720,"freq":58},{"band":"RR20","k":740,"freq":82},{"band":"RR20","k":770,"freq":95},{"band":"RR20","k":799,"freq":99},
      {"band":"RR21","k":468,"freq":-86},{"band":"RR21","k":490,"freq":-80},{"band":"RR21","k":520,"freq":-67},{"band":"RR21","k":543,"freq":-63},{"band":"RR21","k":555,"freq":-55},{"band":"RR21","k":561,"freq":-30},{"band":"RR21","k":563,"freq":0},{"band":"RR21","k":564,"freq":18},
      {"band":"RR22","k":663,"freq":-53},{"band":"RR22","k":690,"freq":-58},{"band":"RR22","k":707,"freq":-80},{"band":"RR22","k":723,"freq":-122},{"band":"RR22","k":740,"freq":-170},{"band":"RR22","k":773,"freq":-222},{"band":"RR22","k":799,"freq":-241},
      {"band":"RR23","k":663,"freq":-151},{"band":"RR23","k":707,"freq":-180},{"band":"RR23","k":740,"freq":-208},{"band":"RR23","k":773,"freq":-232},{"band":"RR23","k":799,"freq":-241},
      {"band":"RR24","k":468,"freq":-241},{"band":"RR24","k":490,"freq":-238},{"band":"RR24","k":520,"freq":-210},{"band":"RR24","k":545,"freq":-180},{"band":"RR24","k":565,"freq":-165},
      {"band":"RR25","k":663,"freq":184},{"band":"RR25","k":720,"freq":175},{"band":"RR25","k":760,"freq":168},{"band":"RR25","k":799,"freq":163}
    ]
  },
  "spacing": 50,
  "bounds": "flush",
  "hconcat": [
    {
      "width": 800,
      "height": 798,
      "title": {"text": "Pm3\u0305m", "fontSize": 66, "offset": -12},
      "layer": [
        {
          "data": {"values": [{"k": 0}, {"k": 122}, {"k": 244}, {"k": 416}, {"k": 628}, {"k": 800}]},
          "mark": {"type": "rule", "color": "#bfbfbf", "strokeWidth": 3.5},
          "encoding": {
            "x": {
              "field": "k", "type": "quantitative",
              "scale": {"domain": [0, 800], "nice": false, "zero": false},
              "axis": {
                "orient": "bottom", "values": [0, 122, 244, 416, 628, 800],
                "labelExpr": "datum.value == 0 || datum.value == 416 ? '\u0393' : datum.value == 122 || datum.value == 800 ? 'X' : datum.value == 244 ? 'M' : 'R'",
                "labelFontSize": 66, "tickSize": -12, "labelPadding": 25, "labelFlush": true,
                "title": "Brillouin zone", "titleFontSize": 67, "titleX": 825, "titleAlign": "center", "titlePadding": 45
              }
            }
          }
        },
        {
          "data": {"values": [{"k": 0}, {"k": 122}, {"k": 244}, {"k": 416}, {"k": 628}, {"k": 800}]},
          "mark": {"type": "rule", "opacity": 0},
          "encoding": {
            "x": {
              "field": "k", "type": "quantitative",
              "axis": {"orient": "top", "values": [0, 122, 244, 416, 628, 800], "labels": false, "title": null, "tickSize": -12}
            }
          }
        },
        {
          "data": {"values": [{}]},
          "mark": {"type": "rule", "color": "black", "strokeWidth": 3.5},
          "encoding": {
            "y": {
              "datum": 0, "type": "quantitative",
              "scale": {"domain": [-338, 800], "nice": false, "zero": false},
              "axis": {
                "orient": "left", "values": [-300, -200, -100, 0, 100, 200, 300, 400, 500, 600, 700, 800],
                "labelExpr": "datum.value % 200 == 0 ? '' + datum.value : ''",
                "labelFontSize": 56, "labelPadding": 28,
                "tickSize": {"condition": {"test": "datum.value % 200 == 0", "value": -12}, "value": -6},
                "title": "Phonon frequency (cm\u207b\u00b9)", "titleFontSize": 67, "titlePadding": 40
              }
            }
          }
        },
        {
          "data": {"name": "cubic"},
          "mark": {"type": "line", "color": "#e41a1c", "strokeWidth": 3.6, "interpolate": "monotone"},
          "encoding": {
            "x": {"field": "k", "type": "quantitative", "axis": null},
            "y": {
              "field": "freq", "type": "quantitative",
              "axis": {
                "orient": "right", "values": [-300, -200, -100, 0, 100, 200, 300, 400, 500, 600, 700, 800],
                "labels": false, "title": null,
                "tickSize": {"condition": {"test": "datum.value % 200 == 0", "value": -12}, "value": -6}
              }
            },
            "detail": {"field": "band"}
          }
        }
      ],
      "resolve": {"axis": {"x": "independent", "y": "independent"}}
    },
    {
      "width": 800,
      "height": 798,
      "title": {"text": "P4/mbm", "fontSize": 66, "offset": -12},
      "layer": [
        {
          "data": {"values": [{"k": 0}, {"k": 96}, {"k": 193}, {"k": 330}, {"k": 468}, {"k": 565}, {"k": 663}, {"k": 799}]},
          "mark": {"type": "rule", "color": "#bfbfbf", "strokeWidth": 3.5},
          "encoding": {
            "x": {
              "field": "k", "type": "quantitative",
              "scale": {"domain": [0, 799], "nice": false, "zero": false},
              "axis": {
                "orient": "bottom", "values": [0, 96, 193, 330, 468, 565, 663, 799], "title": null,
                "labelExpr": "datum.value == 0 || datum.value == 330 ? '\u0393' : datum.value == 96 ? 'X' : datum.value == 193 ? 'M' : datum.value == 565 ? 'R' : datum.value == 663 ? 'A' : 'Z'",
                "labelFontSize": 66, "tickSize": -12, "labelPadding": 25, "labelFlush": true
              }
            }
          }
        },
        {
          "data": {"values": [{"k": 0}, {"k": 96}, {"k": 193}, {"k": 330}, {"k": 468}, {"k": 565}, {"k": 663}, {"k": 799}]},
          "mark": {"type": "rule", "opacity": 0},
          "encoding": {
            "x": {
              "field": "k", "type": "quantitative",
              "axis": {"orient": "top", "values": [0, 96, 193, 330, 468, 565, 663, 799], "labels": false, "title": null, "tickSize": -12}
            }
          }
        },
        {
          "data": {"values": [{}]},
          "mark": {"type": "rule", "color": "black", "strokeWidth": 3.5},
          "encoding": {
            "y": {
              "datum": 0, "type": "quantitative",
              "scale": {"domain": [-338, 800], "nice": false, "zero": false},
              "axis": {
                "orient": "right", "values": [-300, -200, -100, 0, 100, 200, 300, 400, 500, 600, 700, 800],
                "labelExpr": "datum.value % 200 == 0 ? '' + datum.value : ''",
                "labelFontSize": 56, "labelPadding": 27,
                "tickSize": {"condition": {"test": "datum.value % 200 == 0", "value": -12}, "value": -6},
                "title": null
              }
            }
          }
        },
        {
          "data": {"name": "tetra"},
          "mark": {"type": "line", "color": "#377eb8", "strokeWidth": 3.6, "interpolate": "monotone"},
          "encoding": {
            "x": {"field": "k", "type": "quantitative", "axis": null},
            "y": {
              "field": "freq", "type": "quantitative",
              "axis": {
                "orient": "left", "values": [-300, -200, -100, 0, 100, 200, 300, 400, 500, 600, 700, 800],
                "labels": false, "title": null,
                "tickSize": {"condition": {"test": "datum.value % 200 == 0", "value": -12}, "value": -6}
              }
            },
            "detail": {"field": "band"}
          }
        }
      ],
      "resolve": {"axis": {"x": "independent", "y": "independent"}}
    }
  ]
}
